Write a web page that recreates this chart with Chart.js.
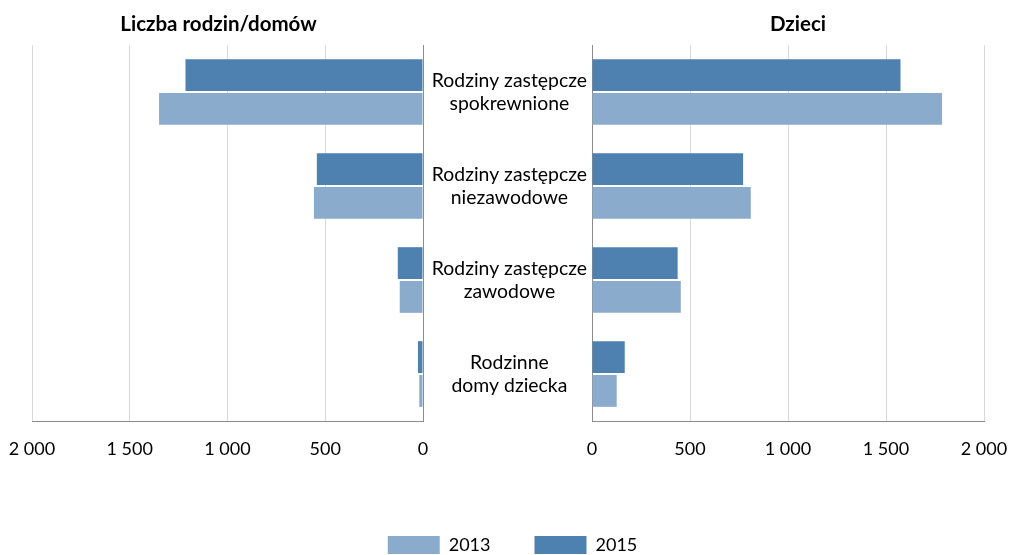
<!DOCTYPE html>
<html lang="pl">
<head>
<meta charset="utf-8">
<script src="https://cdn.jsdelivr.net/npm/chart.js@4.4.1/dist/chart.umd.min.js"></script>
<style>
  html, body { margin: 0; padding: 0; background: #fff; overflow: hidden; }
  #wrap { position: relative; width: 1010px; height: 564px; }
  #left { position: absolute; left: 0; top: 0; width: 1010px; height: 564px; }
  #right { position: absolute; left: 423px; top: 0; width: 587px; height: 564px; }
</style>
</head>
<body>
<div id="wrap">
  <div id="left"><canvas id="chartLeft"></canvas></div>
  <div id="right"><canvas id="chartRight"></canvas></div>
</div>
<script>
// -- data
var categories = [
  ["Rodziny zastępcze", "spokrewnione"],
  ["Rodziny zastępcze", "niezawodowe"],
  ["Rodziny zastępcze", "zawodowe"],
  ["Rodzinne", "domy dziecka"]
];
var years = ["2013", "2015"];
var families2013 = [1350, 558, 119, 19];
var families2015 = [1215, 543, 129, 26];
var children2013 = [1786, 810, 453, 126];
var children2015 = [1574, 771, 437, 167];
var tickStep = 500;
var tickMax = 2000;

var colorLight = '#8aabcc';
var colorDark = '#4e81b0';
var gridColor = '#d9d9d9';
var axisColor = '#8c8c8c';

Chart.defaults.font.family = 'Lato';
Chart.defaults.font.size = 18;
Chart.defaults.color = '#000';

function fmt(v) {
  return String(v).replace(/\B(?=(\d{3})+(?!\d))/g, ' ');
}

// nudge the title a few px, Excel centres it a bit off the plot
function titleShift(dx) {
  return {
    id: 'titleShift',
    afterLayout: function (chart) {
      if (chart.titleBlock) {
        chart.titleBlock.left += dx;
        chart.titleBlock.right += dx;
      }
    }
  };
}

function barSet(label, data, color) {
  return {
    label: label,
    data: data,
    backgroundColor: color,
    borderWidth: 0,
    categoryPercentage: 0.72,
    barPercentage: 0.94
  };
}

var xScale = function (reverse, padLeft) {
  return {
    min: 0,
    max: tickMax,
    reverse: reverse,
    ticks: { stepSize: tickStep, padding: 17, callback: function (v) { return fmt(v); } },
    grid: { color: gridColor, drawTicks: false },
    border: { color: axisColor },
    afterFit: function (s) {
      s.height = 71;
      s.paddingLeft = padLeft;
      s.paddingRight = 0;
    }
  };
};

// -- left: liczba rodzin/domow
var ctxL = document.getElementById("chartLeft");
new Chart(ctxL, {
  type: 'bar',
  data: {
    labels: categories,
    datasets: [
      barSet(years[1], families2015, colorDark),
      barSet(years[0], families2013, colorLight)
    ]
  },
  options: {
    indexAxis: 'y',
    responsive: true,
    maintainAspectRatio: false,
    animation: false,
    layout: { padding: { left: 15 } },
    scales: {
      x: xScale(true, 32),
      y: {
        position: 'right',
        ticks: { display: false },
        grid: { display: false },
        border: { color: axisColor },
        afterFit: function (s) { s.width = 587; }
      }
    },
    plugins: {
      title: {
        display: true,
        text: 'Liczba rodzin/domów',
        fullSize: false,
        font: { size: 20.5, weight: 'bold' },
        padding: { top: 12, bottom: 8.4 }
      },
      legend: {
        position: 'bottom',
        reverse: true,
        labels: { boxWidth: 52, boxHeight: 18, padding: 44, font: { size: 18 } }
      },
      tooltip: { enabled: false }
    }
  },
  plugins: [titleShift(-9)]
});

// -- right: dzieci
var ctxR = document.getElementById("chartRight");
new Chart(ctxR, {
  type: 'bar',
  data: {
    labels: categories,
    datasets: [
      barSet(years[1], children2015, colorDark),
      barSet(years[0], children2013, colorLight)
    ]
  },
  options: {
    indexAxis: 'y',
    responsive: true,
    maintainAspectRatio: false,
    animation: false,
    layout: { padding: { right: 26, bottom: 72 } },
    scales: {
      x: xScale(false, 0),
      y: {
        position: 'left',
        ticks: { crossAlign: 'center', padding: 5, font: { size: 19.4, lineHeight: 1.2 } },
        grid: { display: false, drawTicks: false },
        border: { color: axisColor },
        afterFit: function (s) { s.width = 169; }
      }
    },
    plugins: {
      title: {
        display: true,
        text: 'Dzieci',
        fullSize: false,
        font: { size: 20.5, weight: 'bold' },
        padding: { top: 12, bottom: 8.4 }
      },
      legend: { display: false },
      tooltip: { enabled: false }
    }
  },
  plugins: [titleShift(10)]
});
</script>
</body>
</html>
